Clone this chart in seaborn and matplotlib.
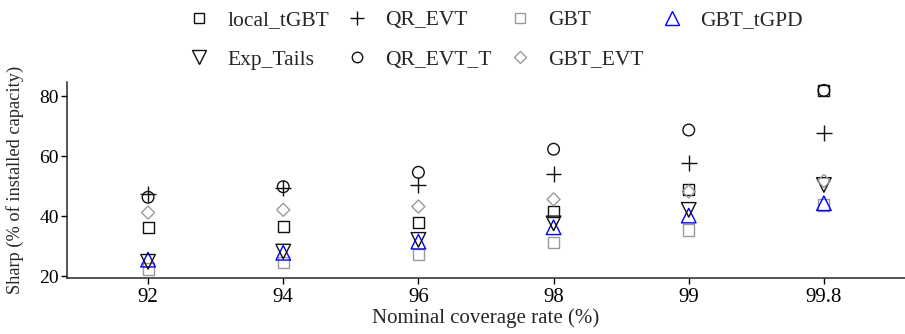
import matplotlib
matplotlib.use("Agg")
import matplotlib.pyplot as plt
import seaborn as sns
import pandas as pd

# Nominal coverage levels (categorical x axis)
coverage = ["92", "94", "96", "98", "99", "99.8"]

# Sharpness per method (% of installed capacity)
local_tGBT = [36.2, 36.8, 37.9, 41.6, 49.1, 82.0]
QR_EVT     = [47.6, 49.4, 50.5, 54.1, 57.7, 67.9]
GBT        = [22.5, 24.6, 27.2, 31.4, 35.5, 43.8]
GBT_tGPD   = [25.6, 27.9, 31.6, 36.4, 40.3, 44.4]
Exp_Tails  = [24.9, 28.3, 32.2, 37.7, 42.2, 50.5]
QR_EVT_T   = [46.4, 49.9, 54.7, 62.4, 68.8, 82.0]
GBT_EVT    = [41.3, 42.2, 43.3, 45.7, 48.3, 51.8]

series = {
    "local_tGBT": local_tGBT,
    "QR_EVT": QR_EVT,
    "GBT": GBT,
    "GBT_tGPD": GBT_tGPD,
    "Exp_Tails": Exp_Tails,
    "QR_EVT_T": QR_EVT_T,
    "GBT_EVT": GBT_EVT,
}

styles = {
    "local_tGBT": dict(marker="s", color="#111111", s=64),
    "QR_EVT":     dict(marker="+", color="#111111", s=130),
    "GBT":        dict(marker="s", color="#9a9a9a", s=64),
    "GBT_tGPD":   dict(marker="^", color="#0000ff", s=110),
    "Exp_Tails":  dict(marker="v", color="#111111", s=110),
    "QR_EVT_T":   dict(marker="o", color="#111111", s=70),
    "GBT_EVT":    dict(marker="D", color="#9a9a9a", s=44),
}

rows = []
for name, vals in series.items():
    for c, v in zip(coverage, vals):
        rows.append({"coverage": c, "sharp": v, "method": name})
df = pd.DataFrame(rows)

sns.set_style("ticks")
plt.rcParams["font.family"] = ["Liberation Serif", "DejaVu Serif"]
plt.rcParams["axes.linewidth"] = 1.1

fig = plt.figure(figsize=(9.05, 3.34), dpi=100)
ax = fig.add_axes([0.0740, 0.1677, 0.926, 0.5868])

handles = {}
for name in series:
    st = styles[name]
    sub = df[df["method"] == name]
    sns.scatterplot(data=sub, x="coverage", y="sharp", marker=st["marker"],
                    s=st["s"], color=st["color"], ax=ax, legend=False, zorder=3)
    pc = ax.collections[-1]
    pc.set_facecolor("none")
    pc.set_edgecolor(st["color"])
    pc.set_linewidth(1.0)
    handles[name] = plt.Line2D([], [], linestyle="none", marker=st["marker"],
                               markersize=(st["s"] ** 0.5) * 0.9,
                               markerfacecolor="none", markeredgecolor=st["color"],
                               markeredgewidth=1.0, color=st["color"])

ax.set_xlim(-0.6, 5.6)
ax.set_ylim(19.5, 84.8)
ax.set_yticks([20, 40, 60, 80])
ax.tick_params(axis="both", length=4, width=1.0, colors="black", labelcolor="black")
ax.tick_params(axis="x", labelsize=15, pad=3)
ax.tick_params(axis="y", labelsize=14, pad=2)
ax.set_xlabel("Nominal coverage rate (%)", fontsize=15, labelpad=1)
ax.set_ylabel("Sharp (% of installed capacity)", fontsize=13.2, labelpad=10.5)
sns.despine(ax=ax)

# Legend laid out row-wise in four columns
order = ["local_tGBT", "Exp_Tails", "QR_EVT", "QR_EVT_T", "GBT", "GBT_EVT", "GBT_tGPD"]
fig.legend([handles[k] for k in order], order, loc="upper left",
           bbox_to_anchor=(188.5 / 905, 1 - 10 / 334), ncol=4, frameon=False,
           fontsize=15.5, handlelength=1.0, handletextpad=0.8, columnspacing=0.82,
           labelspacing=0.9, borderpad=0, borderaxespad=0)

fig.savefig("out.png", dpi=100)
